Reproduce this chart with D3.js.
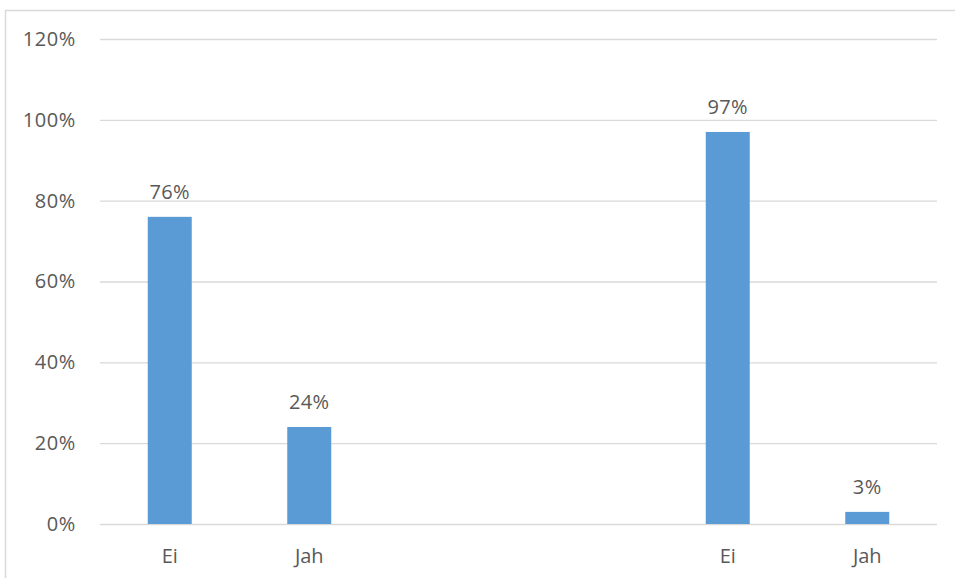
<!DOCTYPE html>
<html>
<head>
<meta charset="utf-8">
<script src="https://cdn.jsdelivr.net/npm/d3@7"></script>
<style>
  html, body { margin: 0; padding: 0; background: #fff; }
  svg { display: block; }
  text { font-family: "Open Sans", "Liberation Sans", sans-serif; fill: #595959; }
</style>
</head>
<body>
<svg id="chart" width="955" height="578"></svg>
<script>
// Answer shares for two questions; the two empty slots separate the groups.
const slots = ["s1", "s2", "s3", "s4", "s5", "s6"];
const slotLabels = ["Ei", "Jah", "", "", "Ei", "Jah"];
const shares = [76, 24, null, null, 97, 3];
const yTicks = [0, 20, 40, 60, 80, 100, 120];

const svg = d3.select("#chart");
const W = 955, H = 578;
const plot = { left: 100, right: 937, top: 39, bottom: 524 };
const FONT = '"Open Sans", "Liberation Sans", sans-serif';
const FS = 20;

// Outer frame of the chart area
svg.append("rect")
  .attr("x", 5.5).attr("y", 10.5)
  .attr("width", W + 10).attr("height", H + 10)
  .attr("fill", "none").attr("stroke", "#d9d9d9").attr("stroke-width", 1.5);

const x = d3.scaleBand().domain(slots).range([plot.left, plot.right]).paddingInner(0).paddingOuter(0);
const y = d3.scaleLinear().domain([0, 120]).range([plot.bottom, plot.top]);

// Horizontal gridlines and percentage tick labels
const yAxis = d3.axisLeft(y).tickValues(yTicks)
  .tickSize(-(plot.right - plot.left)).tickPadding(24)
  .tickFormat(d => d + "%");
const gy = svg.append("g").attr("transform", `translate(${plot.left},0)`).call(yAxis);
gy.select(".domain").remove();
gy.selectAll(".tick line").attr("stroke", "#d9d9d9").attr("stroke-width", 1.3);
gy.selectAll(".tick text").attr("font-size", FS).attr("fill", "#595959")
  .attr("letter-spacing", 0.6).style("font-family", FONT);

// Category labels under each slot
const xAxis = d3.axisBottom(x).tickSize(0).tickPadding(25)
  .tickFormat((d, i) => slotLabels[i]);
const gx = svg.append("g").attr("transform", `translate(0,${plot.bottom})`).call(xAxis);
gx.select(".domain").remove();
gx.selectAll(".tick text").attr("font-size", FS).attr("fill", "#595959")
  .style("font-family", FONT);

// Bars
const barW = 44;
const data = slots.map((s, i) => ({ slot: s, v: shares[i] })).filter(d => d.v !== null);
svg.append("g").selectAll("rect").data(data).join("rect")
  .attr("x", d => x(d.slot) + x.bandwidth() / 2 - barW / 2)
  .attr("y", d => y(d.v))
  .attr("width", barW)
  .attr("height", d => y(0) - y(d.v))
  .attr("fill", "#5b9bd5");

// Value labels above bars
svg.append("g").selectAll("text").data(data).join("text")
  .attr("x", d => x(d.slot) + x.bandwidth() / 2)
  .attr("y", d => y(d.v) - 18)
  .attr("text-anchor", "middle")
  .attr("font-size", FS)
  .attr("letter-spacing", 0.4)
  .style("font-family", FONT)
  .text(d => d.v + "%");
</script>
</body>
</html>
